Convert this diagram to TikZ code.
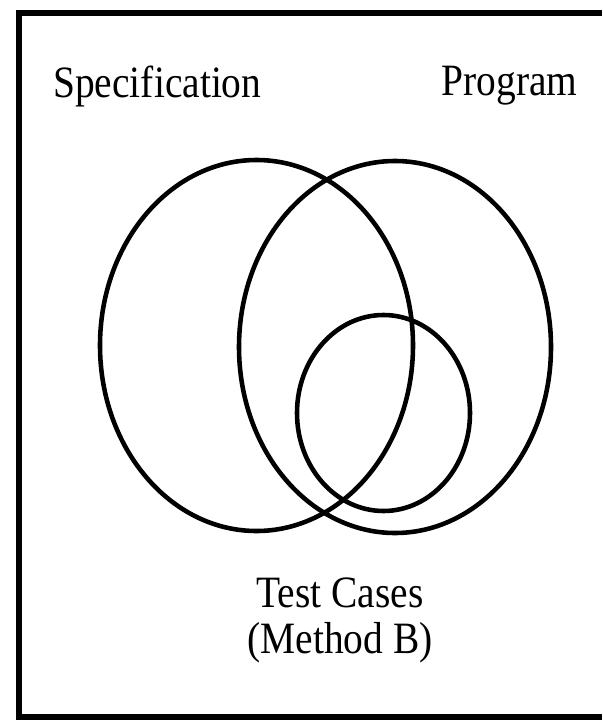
\documentclass[tikz,border=0pt]{standalone}
\usepackage{fontspec}
\setmainfont{Liberation Serif}[FakeStretch=0.88]
\usetikzlibrary{shapes.geometric}

\tikzset{
  setring/.style={draw, ellipse, line width=2.6pt, inner sep=0pt},
  setlabel/.style={font=\fontsize{25.5}{26}\selectfont, inner sep=0pt}
}

\begin{document}
\begin{tikzpicture}[x=0.02cm, y=-0.02cm]
  \useasboundingbox (0,0) rectangle (602,720);
  % frame, open on the right (cut off by the page)
  \draw[line width=3.5pt] (602,13) -- (19,13) -- (19,717) -- (602,717);
  % the three sets
  \node[setring, minimum width=0.02cm*313, minimum height=0.02cm*371] (spec) at (256.5,345.5) {};
  \node[setring, minimum width=0.02cm*312, minimum height=0.02cm*372] (prog) at (395,347) {};
  \node[setring, minimum width=0.02cm*173, minimum height=0.02cm*196] (tests) at (383.5,413) {};
  % labels
  \node[setlabel, anchor=base west] (speclbl) at (53,97) {Specification};
  \node[setlabel, anchor=base east] (proglbl) at (578,95) {Program};
  \node[setlabel, anchor=base, align=center] (testlbl) at (340,653) {Test Cases\\(Method B)};
\end{tikzpicture}
\end{document}
